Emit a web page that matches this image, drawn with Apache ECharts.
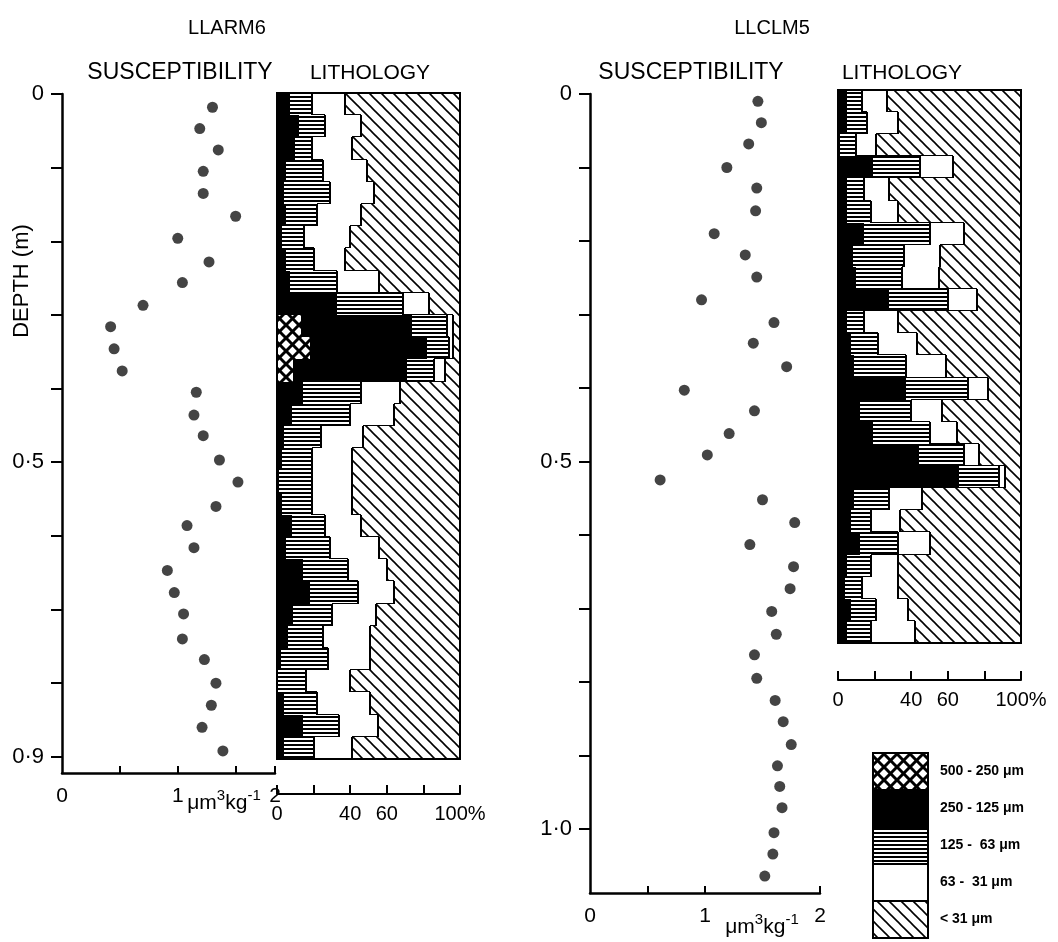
<!DOCTYPE html>
<html>
<head>
<meta charset="utf-8">
<script src="https://cdn.jsdelivr.net/npm/echarts@6/dist/echarts.min.js"></script>
<style>
html, body { margin: 0; padding: 0; background: #fff; }
#chart { width: 1058px; height: 942px; }
</style>
</head>
<body>
<div id="chart"></div>
<script>
// ---- LLARM6 : susceptibility (um3 kg-1) against depth (m)
var arm6Sus = [1.30, 1.19, 1.35, 1.22, 1.22, 1.50, 1.00, 1.27, 1.04, 0.70,
               0.42, 0.45, 0.52, 1.16, 1.14, 1.22, 1.36, 1.52, 1.33, 1.08,
               1.14, 0.91, 0.97, 1.05, 1.04, 1.23, 1.33, 1.29, 1.21, 1.39];
var arm6SusDepth = [0.018, 0.047, 0.076, 0.105, 0.135, 0.166, 0.196, 0.228, 0.256, 0.287,
                    0.316, 0.346, 0.376, 0.405, 0.436, 0.464, 0.497, 0.527, 0.560, 0.586,
                    0.616, 0.647, 0.677, 0.706, 0.740, 0.768, 0.800, 0.830, 0.860, 0.892];

// ---- LLARM6 : grain size (% per class) for each 3 cm slice
var arm6Top = [0.00, 0.03, 0.06, 0.09, 0.12, 0.15, 0.18, 0.21, 0.24, 0.27,
               0.30, 0.33, 0.36, 0.39, 0.42, 0.45, 0.48, 0.51, 0.54, 0.57,
               0.60, 0.63, 0.66, 0.69, 0.72, 0.75, 0.78, 0.81, 0.84, 0.87];
var arm6Base = 0.90;
var arm6Coarse = [0, 0, 0, 0, 0, 0, 0, 0, 0, 0, 13, 18, 9, 0, 0, 0, 0, 0, 0, 0, 0, 0, 0, 0, 0, 0, 0, 0, 0, 0];
var arm6Medium = [7, 12, 10, 5, 4, 5, 3, 5, 7, 33, 61, 64, 62, 14, 8, 4, 3, 1, 3, 8, 5, 14, 18, 9, 6, 2, 0, 4, 14, 4];
var arm6Fine   = [12, 14, 9, 20, 25, 17, 12, 15, 26, 36, 19, 12, 15, 32, 32, 20, 16, 18, 16, 18, 24, 25, 26, 21, 19, 26, 16, 18, 20, 16];
var arm6VFine  = [18, 20, 22, 24, 24, 24, 25, 17, 23, 14, 3, 2, 6, 21, 24, 23, 22, 22, 22, 20, 27, 21, 20, 24, 26, 23, 24, 29, 21, 21];
var arm6Mud    = [63, 54, 59, 51, 47, 54, 60, 63, 44, 17, 4, 4, 8, 33, 36, 53, 59, 59, 59, 54, 44, 40, 36, 46, 49, 49, 60, 49, 45, 59];

// ---- LLCLM5 : susceptibility against depth
var clm5Sus = [1.46, 1.49, 1.38, 1.19, 1.45, 1.44, 1.08, 1.35, 1.45, 0.97,
               1.60, 1.42, 1.71, 0.82, 1.43, 1.21, 1.02, 0.61, 1.50, 1.78,
               1.39, 1.77, 1.74, 1.58, 1.62, 1.43, 1.45, 1.61, 1.68, 1.75,
               1.63, 1.65, 1.67, 1.60, 1.59, 1.52];
var clm5SusDepth = [0.010, 0.039, 0.068, 0.100, 0.128, 0.159, 0.190, 0.219, 0.249, 0.280,
                    0.311, 0.339, 0.371, 0.403, 0.431, 0.462, 0.491, 0.525, 0.552, 0.583,
                    0.613, 0.643, 0.673, 0.704, 0.735, 0.763, 0.795, 0.825, 0.854, 0.885,
                    0.914, 0.942, 0.971, 1.005, 1.034, 1.064];

// ---- LLCLM5 : grain size
var clm5Top = [0.00, 0.03, 0.06, 0.09, 0.12, 0.15, 0.18, 0.21, 0.24, 0.27,
               0.30, 0.33, 0.36, 0.39, 0.42, 0.45, 0.48, 0.51, 0.54, 0.57,
               0.60, 0.63, 0.66, 0.69, 0.72];
var clm5Base = 0.75;
var clm5Coarse = [0, 0, 0, 0, 0, 0, 0, 0, 0, 0, 0, 0, 0, 0, 0, 0, 0, 0, 0, 0, 0, 0, 0, 0, 0];
var clm5Medium = [5, 5, 1, 19, 5, 5, 14, 8, 10, 28, 5, 7, 9, 37, 12, 19, 44, 66, 9, 7, 12, 5, 4, 7, 5];
var clm5Fine   = [8, 11, 9, 26, 9, 13, 36, 28, 25, 32, 9, 15, 28, 34, 28, 31, 25, 22, 19, 11, 21, 13, 9, 14, 13];
var clm5VFine  = [14, 17, 11, 18, 14, 15, 19, 20, 20, 16, 19, 21, 22, 11, 17, 15, 8, 3, 18, 16, 17, 15, 20, 17, 24];
var clm5Mud    = [73, 67, 79, 37, 72, 67, 31, 44, 45, 24, 67, 57, 41, 18, 43, 35, 23, 9, 54, 66, 50, 67, 67, 62, 58];

// ticks and labels
var arm6DepthTicks = [0, 0.1, 0.2, 0.3, 0.4, 0.5, 0.6, 0.7, 0.8, 0.9];
var arm6DepthLabels = [0, 0.5, 0.9];
var clm5DepthTicks = [0, 0.1, 0.2, 0.3, 0.4, 0.5, 0.6, 0.7, 0.8, 0.9, 1.0];
var clm5DepthLabels = [0, 0.5, 1.0];
var pctTicks = [0, 20, 40, 60, 80, 100];
var pctLabels = [0, 40, 60, 100];
var classLabels = ['500 - 250 \u03bcm', '250 - 125 \u03bcm', '125 -  63 \u03bcm', '63 -  31 \u03bcm', '< 31 \u03bcm'];

var FONT = 'Liberation Sans';

function makePattern(kind) {
  var c = document.createElement('canvas');
  var ctx = c.getContext('2d');
  var s, k;
  if (kind === 'stripe') {
    c.width = 4; c.height = 4;
    ctx.fillStyle = '#fff'; ctx.fillRect(0, 0, 4, 4);
    ctx.fillStyle = '#000'; ctx.fillRect(0, 0, 4, 2);
  } else {
    s = kind === 'cross' ? 13 : 12;
    c.width = s; c.height = s;
    ctx.fillStyle = '#fff'; ctx.fillRect(0, 0, s, s);
    ctx.strokeStyle = '#000';
    ctx.lineWidth = kind === 'cross' ? 3 : 1.6;
    for (k = -1; k <= 1; k++) {
      ctx.beginPath();
      ctx.moveTo(-2, -2 + k * s); ctx.lineTo(s + 2, s + 2 + k * s);
      ctx.stroke();
      if (kind === 'cross') {
        ctx.beginPath();
        ctx.moveTo(-2, s + 2 + k * s); ctx.lineTo(s + 2, -2 + k * s);
        ctx.stroke();
      }
    }
  }
  return { image: c, repeat: 'repeat' };
}

var fills = [makePattern('cross'), '#000', makePattern('stripe'), '#fff', makePattern('diag')];

function lithoRows(top, base, a, b, c, d, e) {
  var rows = [];
  for (var i = 0; i < top.length; i++) {
    var bot = i + 1 < top.length ? top[i + 1] : base;
    rows.push([top[i], bot, a[i], b[i], c[i], d[i], e[i]]);
  }
  return rows;
}

function edgesOf(row) {
  var out = [0], cum = 0;
  for (var k = 2; k < 7; k++) { cum += row[k]; out.push(cum); }
  return out;
}

function lithoRender(rows) {
  return function (params, api) {
    var i = params.dataIndex;
    var row = rows[i];
    var ed = edgesOf(row);
    var yTop = Math.round(api.coord([0, row[0]])[1]);
    var yBot = Math.round(api.coord([0, row[1]])[1]);
    var children = [];
    for (var k = 0; k < 5; k++) {
      var x0 = Math.round(api.coord([ed[k], row[0]])[0]);
      var x1 = Math.round(api.coord([ed[k + 1], row[0]])[0]);
      if (x1 > x0) {
        children.push({
          type: 'rect',
          shape: { x: x0, y: yTop, width: x1 - x0, height: yBot - yTop },
          style: { fill: fills[k] }
        });
      }
    }
    var next = rows[i + 1] ? edgesOf(rows[i + 1]) : null;
    [3, 4].forEach(function (e) {
      var x = Math.round(api.coord([ed[e], row[0]])[0]);
      var pts = [[x, yTop], [x, yBot]];
      if (next) pts.push([Math.round(api.coord([next[e], row[1]])[0]), yBot]);
      children.push({
        type: 'polyline',
        shape: { points: pts },
        style: { stroke: '#000', lineWidth: 2, fill: null }
      });
    });
    return { type: 'group', children: children };
  };
}

function frameRender(params, api) {
  var a = api.coord([api.value(0), api.value(1)]);
  var b = api.coord([api.value(2), api.value(3)]);
  return {
    type: 'rect',
    shape: { x: a[0], y: a[1], width: b[0] - a[0], height: b[1] - a[1] },
    style: { fill: null, stroke: '#000', lineWidth: 2 }
  };
}

function depthFmt(v) {
  return v === 0 ? '0' : v.toFixed(1).replace('.', '\u00b7');
}

function susYAxis(grid, max, ticks, labels) {
  return {
    gridIndex: grid, type: 'value', inverse: true, min: 0, max: max,
    axisLine: { show: true, lineStyle: { color: '#000', width: 2.5 } },
    axisTick: { show: true, inside: false, length: 11, customValues: ticks, lineStyle: { color: '#000', width: 2 } },
    axisLabel: { customValues: labels, formatter: depthFmt, margin: 18, color: '#000', fontSize: 22, fontFamily: FONT },
    splitLine: { show: false }
  };
}

function susXAxis(grid, max, ticks, labels) {
  return {
    gridIndex: grid, type: 'value', min: 0, max: max, position: 'bottom',
    axisLine: { show: true, onZero: false, lineStyle: { color: '#000', width: 2.5 } },
    axisTick: { show: true, inside: true, length: 7, customValues: ticks, lineStyle: { color: '#000', width: 2 } },
    axisLabel: {
      customValues: labels, margin: 13, color: '#000', fontSize: 21, fontFamily: FONT,
      formatter: function (v) { return v > 1.5 ? '2' : String(v); }
    },
    splitLine: { show: false }
  };
}

function pctXAxis(grid, offset) {
  return {
    gridIndex: grid, type: 'value', min: 0, max: 100, position: 'bottom', offset: offset,
    axisLine: { show: true, onZero: false, lineStyle: { color: '#000', width: 2 } },
    axisTick: { show: true, inside: true, length: 9, customValues: pctTicks, lineStyle: { color: '#000', width: 2 } },
    axisLabel: {
      customValues: pctLabels, margin: 10, color: '#000', fontSize: 20, fontFamily: FONT,
      formatter: function (v) { return v === 100 ? '100%' : String(v); }
    },
    splitLine: { show: false }
  };
}

function hiddenY(grid, max) {
  return { gridIndex: grid, type: 'value', inverse: true, min: 0, max: max, show: false, splitLine: { show: false } };
}

function txt(x, y, text, size, extra) {
  var st = { text: text, fontSize: size, fontFamily: FONT, fill: '#000', align: 'center', verticalAlign: 'middle' };
  for (var k in extra) st[k] = extra[k];
  return { type: 'text', x: x, y: y, style: st, z: 100 };
}

function unitText(x, y) {
  return {
    type: 'text', x: x, y: y, z: 100,
    style: {
      text: '{n|\u03bcm}{s|3}{n|kg}{s|-1}',
      align: 'center', verticalAlign: 'middle',
      rich: {
        n: { fontSize: 21, fontFamily: FONT, fill: '#000', lineHeight: 26, verticalAlign: 'bottom' },
        s: { fontSize: 15, fontFamily: FONT, fill: '#000', lineHeight: 26, verticalAlign: 'top' }
      }
    }
  };
}

var arm6Rows = lithoRows(arm6Top, arm6Base, arm6Coarse, arm6Medium, arm6Fine, arm6VFine, arm6Mud);
var clm5Rows = lithoRows(clm5Top, clm5Base, clm5Coarse, clm5Medium, clm5Fine, clm5VFine, clm5Mud);

var graphics = [
  txt(227, 28, 'LLARM6', 20),
  txt(772, 28, 'LLCLM5', 20),
  txt(180, 73, 'SUSCEPTIBILITY', 23),
  txt(370, 73, 'LITHOLOGY', 21),
  txt(691, 73, 'SUSCEPTIBILITY', 23),
  txt(902, 73, 'LITHOLOGY', 21),
  { type: 'text', x: 22, y: 281, rotation: Math.PI / 2,
    style: { text: 'DEPTH (m)', fontSize: 22, fontFamily: FONT, fill: '#000', align: 'center', verticalAlign: 'middle' } },
  unitText(224, 801),
  unitText(762, 925)
];

// legend of the grain size classes
var legX = 873, legY = 753, legW = 55, legH = 37;
for (var li = 0; li < 5; li++) {
  graphics.push({
    type: 'rect', shape: { x: legX, y: legY + li * legH, width: legW, height: legH },
    style: { fill: fills[li], stroke: '#000', lineWidth: 2 }
  });
  graphics.push(txt(940, legY + li * legH + legH / 2, classLabels[li], 14, { align: 'left', fontWeight: 'bold' }));
}

var option = {
  animation: false,
  backgroundColor: '#fff',
  grid: [
    { left: 62, top: 94, width: 213, height: 679, outerBoundsMode: 'none' },
    { left: 277, top: 93, width: 183, height: 666, outerBoundsMode: 'none' },
    { left: 590, top: 94, width: 230, height: 799, outerBoundsMode: 'none' },
    { left: 838, top: 90, width: 183, height: 553, outerBoundsMode: 'none' }
  ],
  xAxis: [
    susXAxis(0, 1.84, [0.5, 1, 1.5, 1.84], [0, 1, 1.84]),
    pctXAxis(1, 35),
    susXAxis(2, 2, [0.5, 1, 2], [0, 1, 2]),
    pctXAxis(3, 37)
  ],
  yAxis: [
    susYAxis(0, 0.922, arm6DepthTicks, arm6DepthLabels),
    hiddenY(1, arm6Base),
    susYAxis(2, 1.087, clm5DepthTicks, clm5DepthLabels),
    hiddenY(3, clm5Base)
  ],
  series: [
    {
      type: 'scatter', xAxisIndex: 0, yAxisIndex: 0, symbolSize: 11,
      itemStyle: { color: '#151515' },
      data: arm6Sus.map(function (v, i) { return [v, arm6SusDepth[i]]; })
    },
    {
      type: 'scatter', xAxisIndex: 2, yAxisIndex: 2, symbolSize: 11,
      itemStyle: { color: '#151515' },
      data: clm5Sus.map(function (v, i) { return [v, clm5SusDepth[i]]; })
    },
    { type: 'custom', xAxisIndex: 1, yAxisIndex: 1, renderItem: lithoRender(arm6Rows), data: arm6Rows, clip: false },
    { type: 'custom', xAxisIndex: 3, yAxisIndex: 3, renderItem: lithoRender(clm5Rows), data: clm5Rows, clip: false },
    { type: 'custom', xAxisIndex: 1, yAxisIndex: 1, renderItem: frameRender, data: [[0, 0, 100, arm6Base]], z: 5 },
    { type: 'custom', xAxisIndex: 3, yAxisIndex: 3, renderItem: frameRender, data: [[0, 0, 100, clm5Base]], z: 5 }
  ],
  graphic: graphics
};

var chart = echarts.init(document.getElementById('chart'), null, { renderer: 'canvas' });
chart.setOption(option);
</script>
</body>
</html>
